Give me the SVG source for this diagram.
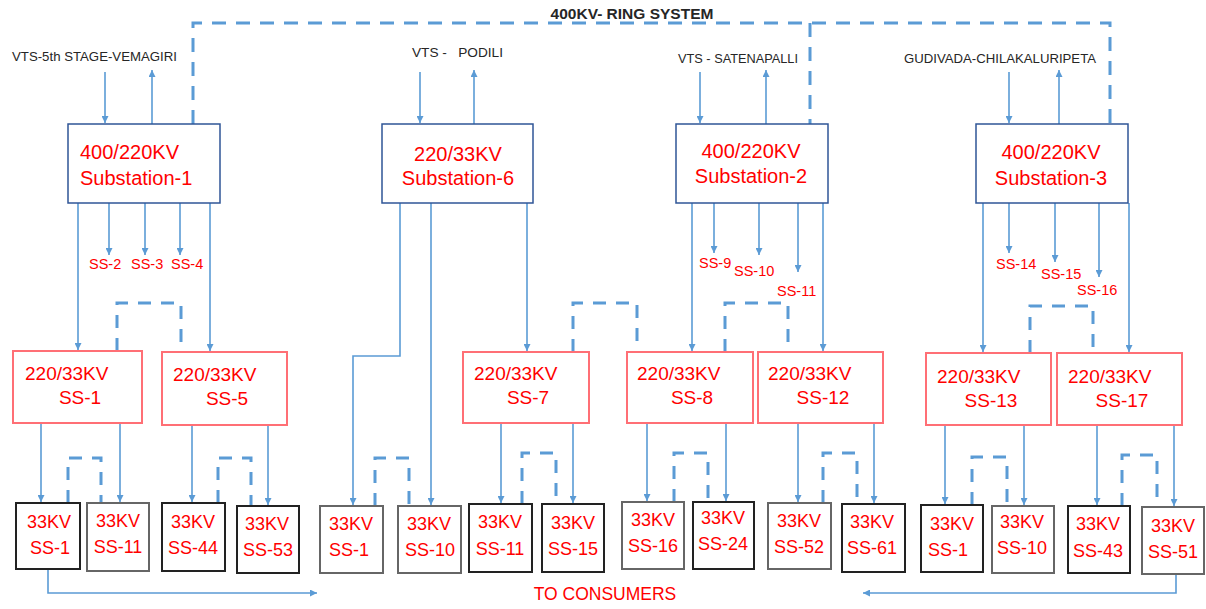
<svg xmlns="http://www.w3.org/2000/svg" width="1206" height="609" viewBox="0 0 1206 609">
<style>
.ln{stroke:#5B9BD5;stroke-width:1.6;fill:none}
.ar{marker-end:url(#ah)}
.ring{stroke:#5B9BD5;stroke-width:3;stroke-dasharray:14 10;fill:none}
.loop{stroke:#5B9BD5;stroke-width:3;stroke-dasharray:13 10;fill:none}
.sub{fill:#fff;stroke:#2F5597;stroke-width:1.5}
.mid{fill:#fff;stroke:#FF6F75;stroke-width:2}
.low{fill:#fff;stroke:#222;stroke-width:2}
.lowg{fill:#fff;stroke:#666;stroke-width:2}
.t20{font-family:"Liberation Sans",Arial,sans-serif;font-size:20px;fill:#FF0000}
.t19{font-family:"Liberation Sans",Arial,sans-serif;font-size:19px;fill:#FF0000}
.t18{font-family:"Liberation Sans",Arial,sans-serif;font-size:18px;fill:#FF0000;text-anchor:middle}
.t14{font-family:"Liberation Sans",Arial,sans-serif;font-size:14.5px;fill:#FF0000}
.vts{font-family:"Liberation Sans",Arial,sans-serif;font-size:13px;fill:#262626;white-space:pre}
.c{text-anchor:middle}
</style>
<defs>
<marker id="ah" viewBox="0 0 8 8" refX="8" refY="4" markerWidth="7" markerHeight="7" markerUnits="userSpaceOnUse" orient="auto"><path d="M0,0 L8,4 L0,8 z" fill="#5B9BD5"/></marker>
</defs>

<g id="connectors">
<path class="ring" d="M193,124 V23 H1110 V124"/>
<path class="ring" d="M810,23 V124"/>
<!-- feeds -->
<path class="ln ar" d="M105,72 V123"/><path class="ln ar" d="M152,124 V70"/>
<path class="ln ar" d="M420,72 V123"/><path class="ln ar" d="M474,124 V70"/>
<path class="ln ar" d="M700,72 V123"/><path class="ln ar" d="M766,124 V70"/>
<path class="ln ar" d="M1009,72 V123"/><path class="ln ar" d="M1059,124 V70"/>
<!-- S1 branches -->
<path class="ln ar" d="M78,203 V350"/>
<path class="ln ar" d="M109,203 V255"/>
<path class="ln ar" d="M145,203 V255"/>
<path class="ln ar" d="M180,203 V255"/>
<path class="ln ar" d="M210,203 V351"/>
<!-- S6 branches -->
<path class="ln ar" d="M400,203 V356 H353 V505"/>
<path class="ln ar" d="M431,203 V505"/>
<path class="ln ar" d="M527,203 V351"/>
<!-- S2 branches -->
<path class="ln ar" d="M692,203 V351"/>
<path class="ln ar" d="M714,203 V253"/>
<path class="ln ar" d="M759,203 V255"/>
<path class="ln ar" d="M798,203 V272"/>
<path class="ln ar" d="M823,203 V351"/>
<!-- S3 branches -->
<path class="ln ar" d="M983,203 V352"/>
<path class="ln ar" d="M1009,203 V253"/>
<path class="ln ar" d="M1055,203 V262"/>
<path class="ln ar" d="M1099,203 V277"/>
<path class="ln ar" d="M1129,203 V352"/>
<!-- mid loops -->
<path class="loop" d="M117,351 V303 H181 V352"/>
<path class="loop" d="M573,352 V303 H637 V352"/>
<path class="loop" d="M725,352 V303 H788 V352"/>
<path class="loop" d="M1030,353 V306 H1093 V353"/>
<!-- mid to bottom -->
<path class="ln ar" d="M41,423 V502"/><path class="ln ar" d="M120,423 V502"/>
<path class="ln ar" d="M192,425 V502"/><path class="ln ar" d="M268,425 V505"/>
<path class="ln ar" d="M501,423 V503"/><path class="ln ar" d="M573,423 V503"/>
<path class="ln ar" d="M647,423 V501"/><path class="ln ar" d="M726,423 V501"/>
<path class="ln ar" d="M798,423 V502"/><path class="ln ar" d="M874,423 V503"/>
<path class="ln ar" d="M945,425 V504"/><path class="ln ar" d="M1024,425 V505"/>
<path class="ln ar" d="M1097,425 V505"/><path class="ln ar" d="M1174,425 V506"/>
<!-- bottom loops -->
<path class="loop" d="M68,503 V458 H101 V503"/>
<path class="loop" d="M218,503 V458 H251 V506"/>
<path class="loop" d="M375,506 V458 H409 V506"/>
<path class="loop" d="M522,504 V453 H556 V504"/>
<path class="loop" d="M674,502 V453 H708 V502"/>
<path class="loop" d="M823,503 V453 H857 V504"/>
<path class="loop" d="M972,505 V457 H1007 V506"/>
<path class="loop" d="M1122,506 V455 H1157 V507"/>
<!-- consumers -->
<path class="ln ar" d="M48,569 V593 H317"/>
<path class="ln ar" d="M1176,574 V593 H863"/>
</g>

<g id="labels">
<text x="632" y="19" font-family="Liberation Sans, Arial, sans-serif" font-size="15.5" font-weight="bold" fill="#262626" text-anchor="middle">400KV- RING SYSTEM</text>
<text class="vts" x="12" y="61" textLength="165" lengthAdjust="spacingAndGlyphs">VTS-5th STAGE-VEMAGIRI</text>
<text class="vts" x="412" y="57" textLength="91" lengthAdjust="spacingAndGlyphs">VTS -   PODILI</text>
<text class="vts" x="678" y="63" textLength="120" lengthAdjust="spacingAndGlyphs">VTS - SATENAPALLI</text>
<text class="vts" x="904" y="63" textLength="192" lengthAdjust="spacingAndGlyphs">GUDIVADA-CHILAKALURIPETA</text>
<text class="t14" x="89" y="269">SS-2</text>
<text class="t14" x="131" y="269">SS-3</text>
<text class="t14" x="171" y="269">SS-4</text>
<text class="t14" x="699" y="268">SS-9</text>
<text class="t14" x="734" y="276">SS-10</text>
<text class="t14" x="777" y="296">SS-11</text>
<text class="t14" x="996" y="269">SS-14</text>
<text class="t14" x="1041" y="279">SS-15</text>
<text class="t14" x="1077" y="295">SS-16</text>
<text x="605" y="600" font-family="Liberation Sans, Arial, sans-serif" font-size="17.5" fill="#FF0000" text-anchor="middle">TO CONSUMERS</text>
</g>

<g id="substation-1"><rect class="sub" x="68" y="124" width="152" height="79"/><text class="t20" x="80" y="159">400/220KV</text><text class="t20" x="80" y="185">Substation-1</text></g>
<g id="substation-6"><rect class="sub" x="382" y="124" width="151" height="79"/><text class="t20 c" x="458" y="161">220/33KV</text><text class="t20 c" x="458" y="185">Substation-6</text></g>
<g id="substation-2"><rect class="sub" x="676" y="124" width="152" height="79"/><text class="t20 c" x="751" y="158">400/220KV</text><text class="t20 c" x="751" y="183">Substation-2</text></g>
<g id="substation-3"><rect class="sub" x="976" y="124" width="152" height="79"/><text class="t20 c" x="1051" y="159">400/220KV</text><text class="t20 c" x="1051" y="185">Substation-3</text></g>

<g id="ss-1-220"><rect class="mid" x="13" y="351" width="129" height="72"/><text class="t19" x="25" y="380">220/33KV</text><text class="t19 c" x="80" y="404">SS-1</text></g>
<g id="ss-5-220"><rect class="mid" x="162" y="352" width="125" height="73"/><text class="t19" x="173" y="381">220/33KV</text><text class="t19 c" x="227" y="405">SS-5</text></g>
<g id="ss-7-220"><rect class="mid" x="463" y="352" width="126" height="71"/><text class="t19" x="474" y="380">220/33KV</text><text class="t19 c" x="528" y="404">SS-7</text></g>
<g id="ss-8-220"><rect class="mid" x="627" y="352" width="126" height="71"/><text class="t19" x="637" y="380">220/33KV</text><text class="t19 c" x="692" y="404">SS-8</text></g>
<g id="ss-12-220"><rect class="mid" x="758" y="352" width="125" height="71"/><text class="t19" x="768" y="380">220/33KV</text><text class="t19 c" x="823" y="404">SS-12</text></g>
<g id="ss-13-220"><rect class="mid" x="926" y="353" width="125" height="72"/><text class="t19" x="937" y="383">220/33KV</text><text class="t19 c" x="991" y="407">SS-13</text></g>
<g id="ss-17-220"><rect class="mid" x="1057" y="353" width="125" height="72"/><text class="t19" x="1068" y="383">220/33KV</text><text class="t19 c" x="1122" y="407">SS-17</text></g>

<g id="b-ss-1a"><rect class="low" x="16" y="503" width="64" height="66"/><text class="t18" x="49" y="528">33KV</text><text class="t18" x="50" y="554">SS-1</text></g>
<g id="b-ss-11a"><rect class="lowg" x="87" y="503" width="62" height="68"/><text class="t18" x="118" y="527">33KV</text><text class="t18" x="118" y="553">SS-11</text></g>
<g id="b-ss-44"><rect class="low" x="162" y="503" width="63" height="68"/><text class="t18" x="193" y="528">33KV</text><text class="t18" x="193" y="554">SS-44</text></g>
<g id="b-ss-53"><rect class="low" x="237" y="506" width="62" height="67"/><text class="t18" x="267" y="530">33KV</text><text class="t18" x="268" y="556">SS-53</text></g>
<g id="b-ss-1b"><rect class="lowg" x="320" y="506" width="63" height="67"/><text class="t18" x="351" y="530">33KV</text><text class="t18" x="349" y="556">SS-1</text></g>
<g id="b-ss-10b"><rect class="lowg" x="398" y="506" width="63" height="67"/><text class="t18" x="429" y="530">33KV</text><text class="t18" x="430" y="556">SS-10</text></g>
<g id="b-ss-11c"><rect class="low" x="469" y="504" width="63" height="68"/><text class="t18" x="500" y="528">33KV</text><text class="t18" x="500" y="555">SS-11</text></g>
<g id="b-ss-15"><rect class="low" x="542" y="504" width="62" height="68"/><text class="t18" x="573" y="529">33KV</text><text class="t18" x="573" y="555">SS-15</text></g>
<g id="b-ss-16"><rect class="lowg" x="622" y="502" width="62" height="67"/><text class="t18" x="653" y="526">33KV</text><text class="t18" x="653" y="552">SS-16</text></g>
<g id="b-ss-24"><rect class="low" x="693" y="502" width="61" height="67"/><text class="t18" x="723" y="524">33KV</text><text class="t18" x="723" y="550">SS-24</text></g>
<g id="b-ss-52"><rect class="lowg" x="768" y="503" width="63" height="66"/><text class="t18" x="799" y="527">33KV</text><text class="t18" x="799" y="553">SS-52</text></g>
<g id="b-ss-61"><rect class="low" x="842" y="504" width="63" height="68"/><text class="t18" x="872" y="528">33KV</text><text class="t18" x="872" y="554">SS-61</text></g>
<g id="b-ss-1c"><rect class="low" x="921" y="505" width="62" height="67"/><text class="t18" x="952" y="530">33KV</text><text class="t18" x="948" y="556">SS-1</text></g>
<g id="b-ss-10d"><rect class="lowg" x="992" y="506" width="62" height="67"/><text class="t18" x="1022" y="528">33KV</text><text class="t18" x="1022" y="554">SS-10</text></g>
<g id="b-ss-43"><rect class="low" x="1068" y="506" width="62" height="67"/><text class="t18" x="1098" y="530">33KV</text><text class="t18" x="1098" y="557">SS-43</text></g>
<g id="b-ss-51"><rect class="lowg" x="1142" y="507" width="62" height="67"/><text class="t18" x="1173" y="532">33KV</text><text class="t18" x="1173" y="558">SS-51</text></g>
</svg>
